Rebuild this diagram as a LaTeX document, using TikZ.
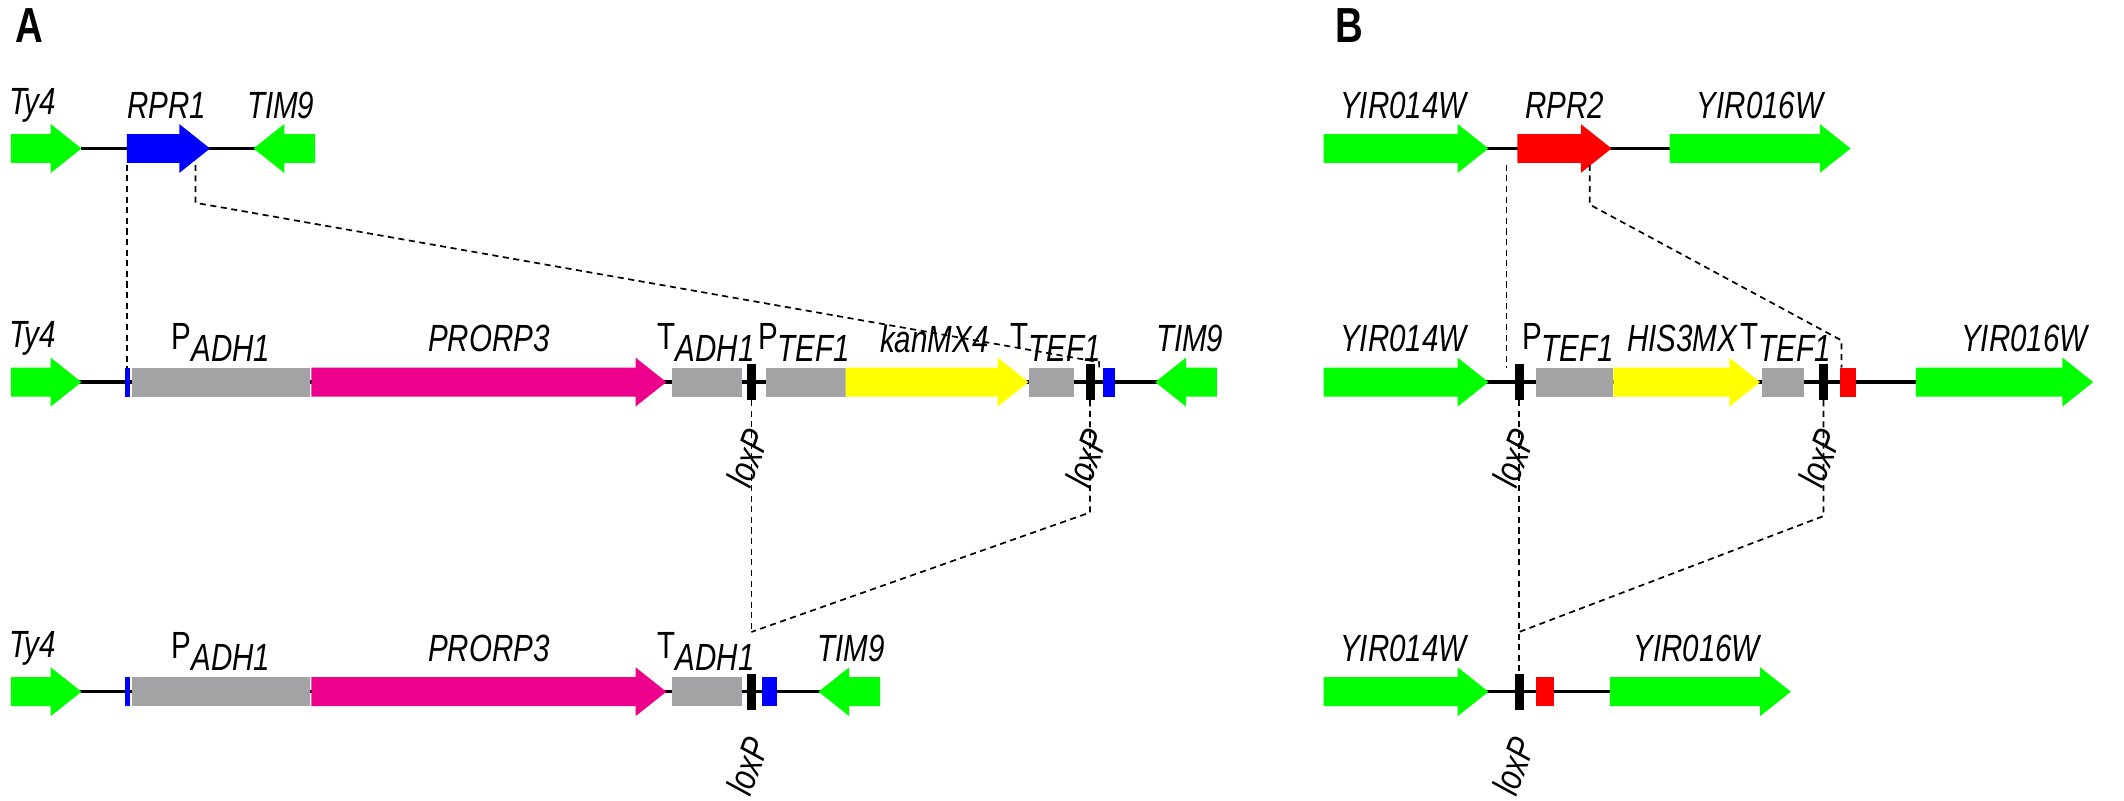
\documentclass[tikz,border=0pt]{standalone}
\usepackage{fontspec}
\setmainfont[FakeStretch=0.78]{Liberation Sans}
\definecolor{genegreen}{RGB}{0,255,0}
\definecolor{geneblue}{RGB}{0,0,255}
\definecolor{genered}{RGB}{255,0,0}
\definecolor{genepink}{RGB}{236,0,140}
\definecolor{geneyellow}{RGB}{255,255,0}
\definecolor{genegray}{RGB}{163,163,166}
% right and left pointing genes: start, end, row, colour
\newcommand{\geneR}[4]{\fill[#4] (#1,#3-8) -- (#2-17,#3-8) -- (#2-17,#3-13.5) -- (#2,#3) -- (#2-17,#3+13.5) -- (#2-17,#3+8) -- (#1,#3+8) -- cycle;}
\newcommand{\geneL}[4]{\fill[#4] (#2,#3-8) -- (#1+17,#3-8) -- (#1+17,#3-13.5) -- (#1,#3) -- (#1+17,#3+13.5) -- (#1+17,#3+8) -- (#2,#3+8) -- cycle;}
\newcommand{\block}[4]{\fill[#4] (#1,#3-8) rectangle (#2,#3+8);}
\newcommand{\loxsite}[2]{\fill[black] (#1-2.5,#2-10) rectangle (#1+2.5,#2+10);}
\newcommand{\subl}[1]{\raisebox{-0.6ex}{\itshape #1}}

\begin{document}
\begin{tikzpicture}[x=0.0168cm, y=-0.0168cm,
    lbl/.style={font=\fontsize{10}{11}\selectfont, black},
    gene/.style={lbl, font=\fontsize{10}{11}\selectfont\itshape},
    lox/.style={gene, rotate=70},
    panel/.style={font=\fontsize{13}{14}\selectfont\bfseries},
    backbone/.style={line width=0.9pt},
    guide/.style={line width=0.45pt, dash pattern=on 1.6pt off 1.2pt}]
    \useasboundingbox (0,0) rectangle (1173,442);

    \node[panel] (pA) at (16,14) {A};
    \node[panel] (pB) at (745,14) {B};

    % panel A, wild type
    \draw[backbone] (45,82) -- (172,82);
    \geneR{6}{45}{82}{genegreen}
    \geneR{70}{116}{82}{geneblue}
    \geneL{140}{174}{82}{genegreen}
    \node[gene] (ty4a) at (18,58) {Ty4};
    \node[gene] (rpr1) at (92,58) {RPR1};
    \node[gene] (tim9a) at (155,58) {TIM9};

    % panel A, insertion
    \draw[backbone] (40,211) -- (672,211);
    \geneR{6}{45}{211}{genegreen}
    \block{69}{72}{211}{geneblue}
    \block{73}{171}{211}{genegray}
    \geneR{172}{368}{211}{genepink}
    \block{371}{410}{211}{genegray}
    \loxsite{415}{211}
    \block{423}{467}{211}{genegray}
    \geneR{467}{568}{211}{geneyellow}
    \block{568}{593}{211}{genegray}
    \loxsite{602}{211}
    \block{609}{616}{211}{geneblue}
    \geneL{638}{672}{211}{genegreen}
    \node[gene] (ty4b) at (18,187) {Ty4};
    \node[lbl] (padh) at (122,189) {P\subl{ADH1}};
    \node[gene] (prorp) at (270,187) {PRORP3};
    \node[lbl] (tadh) at (390,189) {T\subl{ADH1}};
    \node[lbl] (ptef) at (444,189) {P\subl{TEF1}};
    \node[gene] (kan) at (516,187) {kanMX4};
    \node[lbl] (ttef) at (583,189) {T\subl{TEF1}};
    \node[gene] (tim9b) at (657,187) {TIM9};
    \node[lox] (loxa1) at (413,253) {loxP};
    \node[lox] (loxa2) at (600,253) {loxP};

    % panel A, after excision
    \draw[backbone] (40,382) -- (486,382);
    \geneR{6}{45}{382}{genegreen}
    \block{69}{72}{382}{geneblue}
    \block{73}{171}{382}{genegray}
    \geneR{172}{368}{382}{genepink}
    \block{371}{410}{382}{genegray}
    \loxsite{415}{382}
    \block{421}{429}{382}{geneblue}
    \geneL{452}{486}{382}{genegreen}
    \node[gene] (ty4c) at (18,358) {Ty4};
    \node[lbl] (padhc) at (122,360) {P\subl{ADH1}};
    \node[gene] (prorpc) at (270,358) {PRORP3};
    \node[lbl] (tadhc) at (390,360) {T\subl{ADH1}};
    \node[gene] (tim9c) at (470,358) {TIM9};
    \node[lox] (loxa3) at (413,423) {loxP};

    \coordinate (a1) at (70,91);
    \coordinate (a2) at (70,203);
    \coordinate (a3) at (108,91);
    \coordinate (a4) at (108,112);
    \coordinate (a5) at (607,203);
    \draw[guide] (a1) -- (a2);
    \draw[guide] (a3) -- (a4) -- (607,200) -- (a5);
    \draw[guide] (415,221) -- (415,349);
    \draw[guide] (602,221) -- (602,283) -- (415,349);

    % panel B, wild type
    \draw[backbone] (820,82) -- (924,82);
    \geneR{731}{822}{82}{genegreen}
    \geneR{838}{890}{82}{genered}
    \geneR{922}{1022}{82}{genegreen}
    \node[gene] (yir14a) at (775,58) {YIR014W};
    \node[gene] (rpr2) at (864,58) {RPR2};
    \node[gene] (yir16a) at (972,58) {YIR016W};

    % panel B, insertion
    \draw[backbone] (820,211) -- (1060,211);
    \geneR{731}{822}{211}{genegreen}
    \loxsite{839}{211}
    \block{848}{891}{211}{genegray}
    \geneR{891}{972}{211}{geneyellow}
    \block{973}{996}{211}{genegray}
    \loxsite{1007}{211}
    \block{1016}{1025}{211}{genered}
    \geneR{1058}{1156}{211}{genegreen}
    \node[gene] (yir14b) at (775,187) {YIR014W};
    \node[lbl] (ptefb) at (866,189) {P\subl{TEF1}};
    \node[gene] (his) at (929,187) {HIS3MX};
    \node[lbl] (ttefb) at (986,189) {T\subl{TEF1}};
    \node[gene] (yir16b) at (1118,187) {YIR016W};
    \node[lox] (loxb1) at (836,253) {loxP};
    \node[lox] (loxb2) at (1005,253) {loxP};

    % panel B, after excision
    \draw[backbone] (820,382) -- (890,382);
    \geneR{731}{822}{382}{genegreen}
    \loxsite{839}{382}
    \block{848}{858}{382}{genered}
    \geneR{889}{989}{382}{genegreen}
    \node[gene] (yir14c) at (775,358) {YIR014W};
    \node[gene] (yir16c) at (937,358) {YIR016W};
    \node[lox] (loxb3) at (836,423) {loxP};

    \coordinate (b1) at (832,91);
    \coordinate (b2) at (832,203);
    \coordinate (b3) at (878,91);
    \coordinate (b4) at (878,113);
    \coordinate (b5) at (1017,203);
    \draw[guide] (b1) -- (b2);
    \draw[guide] (b3) -- (b4) -- (1017,188) -- (b5);
    \draw[guide] (839,221) -- (839,374);
    \draw[guide] (1007,221) -- (1007,285) -- (839,349);
\end{tikzpicture}
\end{document}
